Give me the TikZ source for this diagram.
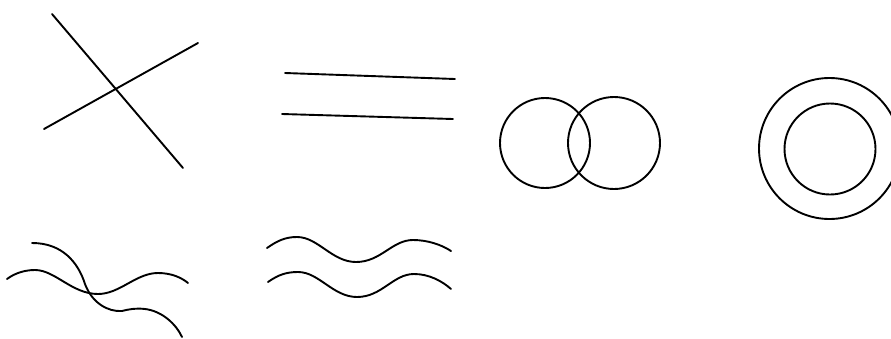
\documentclass[tikz,border=0pt]{standalone}
\begin{document}
\begin{tikzpicture}[x=1pt,y=-1pt,line width=1.9pt,line cap=round,line join=round,
  figstroke/.style={draw=black}]
\useasboundingbox (0,0) rectangle (891,338);
\clip (0,0) rectangle (891,338);
% crossing lines
\draw[figstroke] (52,14) -- (183,168);
\draw[figstroke] (44,129) -- (198,43);
% parallel lines
\draw[figstroke] (285,73) -- (455,79);
\draw[figstroke] (282,114) -- (453,119);
% intersecting circles
\draw[figstroke] (545,143) circle[radius=45];
\draw[figstroke] (614,143) circle[radius=46];
% concentric circles
\draw[figstroke] (829.5,148.5) circle[radius=70.5];
\draw[figstroke] (830,149) circle[radius=45.5];
% crossing waves
\draw[figstroke] (7,279) .. controls (15,273) and (25,270) .. (35,270)
  .. controls (55,270) and (72,294) .. (98,294)
  .. controls (120,294) and (136,273) .. (158,273)
  .. controls (172,273) and (182,278) .. (188,283);
\draw[figstroke] (32,243) .. controls (62,243) and (78,262) .. (85,284)
  .. controls (92,303) and (108,312) .. (122,311)
  .. controls (130,309) and (136,308) .. (145,309)
  .. controls (162,311) and (176,324) .. (182,337);
% parallel waves
\draw[figstroke] (267,248) .. controls (277,241) and (285,237) .. (297,237)
  .. controls (318,237) and (332,262) .. (356,262)
  .. controls (381,262) and (392,240) .. (413,240)
  .. controls (428,240) and (442,245) .. (451,251);
\draw[figstroke] (268,282) .. controls (278,275) and (286,272) .. (298,272)
  .. controls (319,272) and (333,297) .. (357,297)
  .. controls (382,297) and (393,274) .. (414,274)
  .. controls (429,274) and (442,281) .. (451,289);
\end{tikzpicture}
\end{document}
